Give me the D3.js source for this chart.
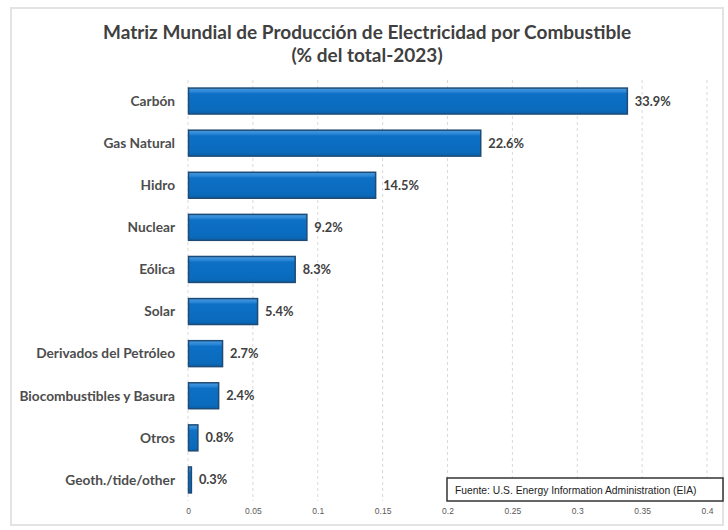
<!DOCTYPE html>
<html>
<head>
<meta charset="utf-8">
<script src="https://cdn.jsdelivr.net/npm/d3@7"></script>
<style>
  html, body { margin: 0; padding: 0; background: #ffffff; }
  svg { display: block; }
</style>
</head>
<body>
<svg id="chart" width="728" height="530"></svg>
<script>
const categories = ["Carbón", "Gas Natural", "Hidro", "Nuclear", "Eólica", "Solar",
  "Derivados del Petróleo", "Biocombustibles y Basura", "Otros", "Geoth./tide/other"];
const values = [0.339, 0.226, 0.145, 0.092, 0.083, 0.054, 0.027, 0.024, 0.008, 0.003];
const valueLabels = ["33.9%", "22.6%", "14.5%", "9.2%", "8.3%", "5.4%", "2.7%", "2.4%", "0.8%", "0.3%"];
const tickValues = [0, 0.05, 0.1, 0.15, 0.2, 0.25, 0.3, 0.35, 0.4];
const titleLines = ["Matriz Mundial de Producción de Electricidad por Combustible", "(% del total-2023)"];
const sourceText = "Fuente: U.S. Energy Information Administration (EIA)";

const svg = d3.select("#chart");
const font = "Lato, 'Open Sans', sans-serif";

// card
svg.append("rect").attr("x", 11).attr("y", 8).attr("width", 712).attr("height", 517)
  .attr("fill", "#fff").attr("stroke", "#e3e3e3").attr("stroke-width", 2);

// gradient
const defs = svg.append("defs");
const g = defs.append("linearGradient").attr("id", "barGrad").attr("x1", 0).attr("y1", 0).attr("x2", 0).attr("y2", 1);
g.append("stop").attr("offset", "0%").attr("stop-color", "#4a9be0");
g.append("stop").attr("offset", "14%").attr("stop-color", "#2a86d6");
g.append("stop").attr("offset", "22%").attr("stop-color", "#0d70c4");
g.append("stop").attr("offset", "85%").attr("stop-color", "#0a6bbd");
g.append("stop").attr("offset", "100%").attr("stop-color", "#0a5fa8");

const x = d3.scaleLinear().domain([0, 0.4]).range([188, 707]);
const y = d3.scaleBand().domain(categories).range([80, 501]).paddingInner(0.36).paddingOuter(0.18);

// title
svg.append("g").selectAll("text").data(titleLines).join("text")
  .attr("x", 367).attr("y", (d, i) => 39 + i * 23)
  .attr("text-anchor", "middle")
  .attr("font-family", font).attr("font-weight", "bold").attr("font-size", 19)
  .attr("fill", "#404040").text(d => d);

// gridlines
svg.append("g").selectAll("line").data(tickValues).join("line")
  .attr("x1", d => x(d)).attr("x2", d => x(d))
  .attr("y1", 80).attr("y2", 501)
  .attr("stroke", "#d9d9d9").attr("stroke-width", 1).attr("stroke-dasharray", "3,3");

// x axis
const xAxis = d3.axisBottom(x).tickValues(tickValues).tickSize(0).tickPadding(6)
  .tickFormat(d => d === 0 ? "0" : d3.format("")(+d.toFixed(2)));
const ax = svg.append("g").attr("transform", "translate(0,502)").call(xAxis);
ax.select(".domain").remove();
ax.selectAll("text").attr("font-family", "'Liberation Sans', sans-serif").attr("font-size", 8.5).attr("fill", "#595959");

// y axis labels
svg.append("g").selectAll("text").data(categories).join("text")
  .attr("x", 175).attr("y", d => y(d) + y.bandwidth() / 2)
  .attr("dy", "0.35em").attr("text-anchor", "end")
  .attr("font-family", font).attr("font-weight", "bold").attr("font-size", 13.7)
  .attr("fill", "#4d4d4d").text(d => d);

// bars
const data = categories.map((c, i) => ({ c, v: values[i], l: valueLabels[i] }));
svg.append("g").selectAll("rect").data(data).join("rect")
  .attr("x", x(0) + 0.5).attr("y", d => y(d.c) + 0.5)
  .attr("width", d => Math.max(0, x(d.v) - x(0) - 1)).attr("height", y.bandwidth() - 1)
  .attr("fill", "url(#barGrad)").attr("stroke", "#1d4b75").attr("stroke-width", 1.5);

// value labels
svg.append("g").selectAll("text").data(data).join("text")
  .attr("x", d => x(d.v) + 7).attr("y", d => y(d.c) + y.bandwidth() / 2)
  .attr("dy", "0.35em")
  .attr("font-family", font).attr("font-weight", "bold").attr("font-size", 12.8)
  .attr("fill", "#404040").text(d => d.l);

// source box
svg.append("rect").attr("x", 447).attr("y", 478).attr("width", 276).attr("height", 23)
  .attr("fill", "#fff").attr("stroke", "#333").attr("stroke-width", 1.5);
svg.append("text").attr("x", 455).attr("y", 490).attr("dy", "0.35em")
  .attr("font-family", "'Liberation Sans', sans-serif").attr("font-size", 10.3).attr("fill", "#222")
  .text(sourceText);
</script>
</body>
</html>
